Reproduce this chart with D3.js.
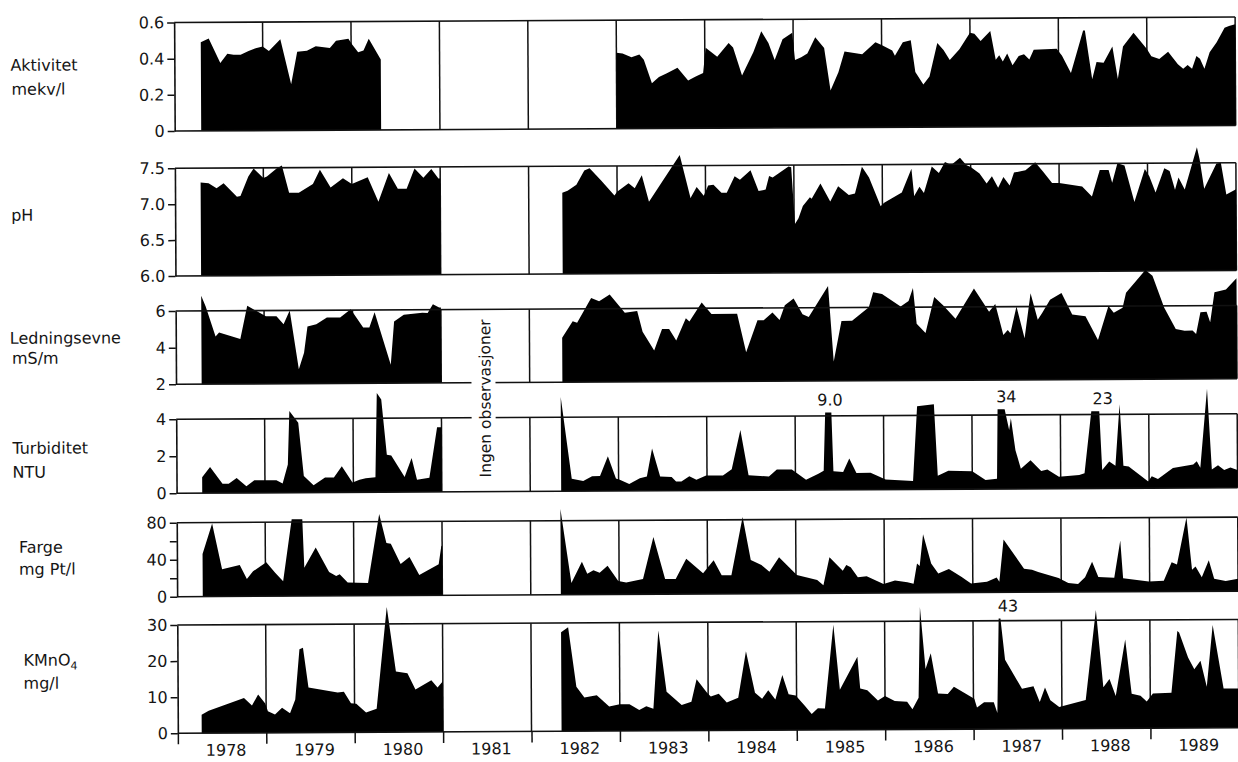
<!DOCTYPE html>
<html><head><meta charset="utf-8">
<script src="https://cdn.jsdelivr.net/npm/d3@7"></script>
<style>
body{margin:0;background:#fff}
svg{display:block}
text{font-family:"DejaVu Sans",sans-serif;fill:#151515}
</style>
</head><body>
<svg id="c" width="1238" height="762"></svg>
<script>
// ---------------- data (decimal year, value); null = gap ----------------
const years = [1978,1979,1980,1981,1982,1983,1984,1985,1986,1987,1988,1989];

const aktivitet = [
[1978.30,0.49],[1978.39,0.51],[1978.52,0.375],[1978.60,0.425],[1978.67,0.42],[1978.75,0.42],[1978.84,0.44],[1978.92,0.455],[1979.00,0.465],[1979.07,0.44],[1979.20,0.505],[1979.32,0.255],[1979.39,0.435],[1979.50,0.44],[1979.60,0.465],[1979.67,0.46],[1979.76,0.455],[1979.83,0.495],[1979.97,0.505],[1980.01,0.475],[1980.08,0.43],[1980.14,0.44],[1980.20,0.505],[1980.335,0.39],
null,
[1983.00,0.42],[1983.07,0.415],[1983.17,0.395],[1983.26,0.41],[1983.31,0.38],[1983.40,0.25],[1983.48,0.285],[1983.57,0.305],[1983.69,0.335],[1983.81,0.265],[1983.89,0.285],[1983.98,0.305],[1984.01,0.445],[1984.14,0.395],[1984.27,0.47],[1984.32,0.445],[1984.42,0.29],[1984.55,0.42],[1984.64,0.535],[1984.72,0.47],[1984.79,0.375],[1984.88,0.49],[1984.99,0.525],[1985.02,0.375],[1985.09,0.39],[1985.16,0.41],[1985.25,0.50],[1985.35,0.44],[1985.42,0.205],[1985.51,0.305],[1985.58,0.42],[1985.78,0.405],[1985.93,0.47],[1986.00,0.455],[1986.12,0.425],[1986.15,0.395],[1986.24,0.47],[1986.33,0.48],[1986.38,0.305],[1986.47,0.235],[1986.54,0.28],[1986.63,0.465],[1986.70,0.425],[1986.77,0.37],[1986.88,0.43],[1987.00,0.52],[1987.05,0.515],[1987.12,0.475],[1987.23,0.53],[1987.29,0.37],[1987.33,0.395],[1987.37,0.36],[1987.42,0.405],[1987.48,0.34],[1987.55,0.39],[1987.61,0.40],[1987.67,0.37],[1987.72,0.425],[1987.98,0.43],[1988.04,0.39],[1988.14,0.295],[1988.28,0.53],[1988.30,0.53],[1988.38,0.26],[1988.43,0.355],[1988.51,0.35],[1988.61,0.44],[1988.67,0.26],[1988.73,0.44],[1988.85,0.515],[1989.00,0.425],[1989.05,0.385],[1989.14,0.37],[1989.24,0.41],[1989.35,0.34],[1989.41,0.315],[1989.46,0.335],[1989.51,0.315],[1989.56,0.385],[1989.60,0.37],[1989.65,0.315],[1989.71,0.405],[1989.79,0.46],[1989.88,0.54],[1989.93,0.55],[1990.00,0.56]
];

const ph = [
[1978.29,7.30],[1978.38,7.29],[1978.47,7.22],[1978.55,7.29],[1978.70,7.10],[1978.74,7.11],[1978.83,7.38],[1978.89,7.49],[1979.00,7.36],[1979.04,7.38],[1979.15,7.49],[1979.21,7.53],[1979.29,7.15],[1979.40,7.15],[1979.56,7.27],[1979.64,7.47],[1979.76,7.22],[1979.90,7.35],[1980.00,7.27],[1980.18,7.36],[1980.30,7.02],[1980.42,7.42],[1980.52,7.20],[1980.62,7.20],[1980.71,7.48],[1980.81,7.35],[1980.90,7.47],[1980.98,7.34],[1981.00,7.34],
null,
[1982.38,7.13],[1982.44,7.16],[1982.54,7.24],[1982.63,7.44],[1982.69,7.47],[1982.82,7.30],[1982.97,7.09],[1983.00,7.14],[1983.13,7.26],[1983.20,7.19],[1983.28,7.37],[1983.36,7.00],[1983.71,7.65],[1983.83,7.05],[1983.90,7.20],[1983.98,7.08],[1984.03,7.22],[1984.09,7.23],[1984.18,7.12],[1984.24,7.12],[1984.33,7.35],[1984.39,7.30],[1984.51,7.43],[1984.60,7.14],[1984.68,7.16],[1984.72,7.35],[1984.76,7.33],[1984.94,7.48],[1984.97,7.47],[1985.01,6.68],[1985.05,6.76],[1985.10,6.93],[1985.18,7.05],[1985.20,7.03],[1985.30,7.24],[1985.41,6.99],[1985.50,7.20],[1985.62,7.08],[1985.69,7.10],[1985.77,7.47],[1985.85,7.32],[1985.98,6.92],[1986.02,6.97],[1986.22,7.11],[1986.33,7.44],[1986.36,7.06],[1986.42,7.19],[1986.47,7.10],[1986.56,7.47],[1986.64,7.38],[1986.71,7.53],[1986.78,7.49],[1986.88,7.59],[1986.95,7.49],[1987.00,7.46],[1987.10,7.37],[1987.18,7.23],[1987.24,7.33],[1987.31,7.17],[1987.37,7.32],[1987.44,7.20],[1987.49,7.38],[1987.62,7.41],[1987.73,7.52],[1987.82,7.39],[1987.92,7.23],[1988.00,7.23],[1988.26,7.18],[1988.37,7.04],[1988.46,7.41],[1988.56,7.41],[1988.60,7.23],[1988.66,7.50],[1988.74,7.47],[1988.85,6.96],[1988.97,7.42],[1989.02,7.32],[1989.09,7.09],[1989.19,7.43],[1989.25,7.39],[1989.31,7.13],[1989.35,7.30],[1989.42,7.13],[1989.56,7.72],[1989.59,7.55],[1989.64,7.14],[1989.78,7.49],[1989.83,7.50],[1989.89,7.06],[1990.00,7.13]
];

const ledningsevne = [
[1978.29,6.82],[1978.34,6.24],[1978.45,4.60],[1978.49,4.82],[1978.73,4.45],[1978.81,6.27],[1978.92,5.96],[1979.02,5.69],[1979.14,5.69],[1979.22,5.24],[1979.29,6.00],[1979.39,2.78],[1979.45,3.69],[1979.49,5.11],[1979.59,5.24],[1979.71,5.60],[1979.86,5.60],[1979.98,6.05],[1980.12,5.05],[1980.19,5.05],[1980.25,5.87],[1980.43,3.00],[1980.47,5.36],[1980.58,5.73],[1980.79,5.84],[1980.85,5.82],[1980.91,6.29],[1980.98,6.11],[1981.00,6.11],
null,
[1982.37,4.43],[1982.49,5.33],[1982.54,5.24],[1982.70,6.59],[1982.79,6.41],[1982.91,6.77],[1983.05,5.96],[1983.08,5.78],[1983.22,5.87],[1983.28,4.73],[1983.41,3.71],[1983.50,4.88],[1983.58,4.88],[1983.66,4.25],[1983.77,5.46],[1983.81,5.28],[1983.95,6.32],[1984.06,5.69],[1984.35,5.69],[1984.45,3.59],[1984.58,5.33],[1984.65,5.33],[1984.75,5.75],[1984.83,5.33],[1984.89,6.14],[1984.99,6.50],[1985.09,5.64],[1985.16,5.49],[1985.38,7.18],[1985.44,3.05],[1985.53,5.27],[1985.65,5.27],[1985.84,6.00],[1985.89,6.82],[1985.99,6.73],[1986.20,6.04],[1986.29,6.33],[1986.34,7.05],[1986.38,5.09],[1986.48,4.58],[1986.58,6.55],[1986.68,6.09],[1986.82,5.36],[1987.03,7.00],[1987.20,5.73],[1987.27,6.15],[1987.36,4.45],[1987.41,4.73],[1987.44,4.55],[1987.51,6.00],[1987.60,4.27],[1987.67,6.73],[1987.75,5.27],[1987.80,5.64],[1987.89,6.36],[1988.02,6.73],[1988.14,5.55],[1988.29,5.45],[1988.43,4.15],[1988.55,6.00],[1988.61,5.64],[1988.71,5.91],[1988.75,6.73],[1988.97,7.96],[1989.05,7.64],[1989.18,5.91],[1989.31,4.73],[1989.41,4.64],[1989.50,4.64],[1989.54,4.45],[1989.59,5.64],[1989.66,5.67],[1989.70,5.09],[1989.75,6.73],[1989.88,6.87],[1990.00,7.49]
];

const turbiditet = [
[1978.29,0.86],[1978.38,1.41],[1978.52,0.50],[1978.59,0.50],[1978.68,0.81],[1978.79,0.36],[1978.88,0.68],[1979.13,0.68],[1979.20,0.50],[1979.26,1.53],[1979.28,4.41],[1979.38,3.78],[1979.44,0.90],[1979.55,0.40],[1979.68,0.81],[1979.78,0.81],[1979.87,1.41],[1979.99,0.54],[1980.07,0.68],[1980.14,0.76],[1980.25,0.81],[1980.27,5.37],[1980.32,5.01],[1980.38,2.02],[1980.43,1.98],[1980.58,0.81],[1980.66,1.84],[1980.72,0.66],[1980.86,0.77],[1980.95,3.50],[1981.00,3.50],
null,
[1982.35,5.10],[1982.47,0.68],[1982.60,0.55],[1982.70,0.81],[1982.79,0.81],[1982.88,1.88],[1982.97,0.68],[1983.02,0.59],[1983.12,0.37],[1983.24,0.68],[1983.32,0.77],[1983.38,2.29],[1983.47,0.77],[1983.60,0.74],[1983.65,0.50],[1983.71,0.50],[1983.80,0.77],[1983.88,0.59],[1983.99,0.81],[1984.18,0.81],[1984.28,1.14],[1984.38,3.26],[1984.47,0.81],[1984.70,0.74],[1984.79,1.11],[1984.96,1.11],[1985.12,0.55],[1985.26,0.87],[1985.32,1.04],[1985.34,4.18],[1985.41,4.18],[1985.43,1.00],[1985.54,0.96],[1985.61,1.69],[1985.69,0.91],[1985.85,0.91],[1986.02,0.55],[1986.33,0.45],[1986.38,4.49],[1986.57,4.60],[1986.61,0.73],[1986.73,1.00],[1987.00,0.96],[1987.15,0.49],[1987.28,0.55],[1987.29,4.31],[1987.37,4.31],[1987.42,3.18],[1987.44,3.82],[1987.49,2.09],[1987.55,1.09],[1987.66,1.55],[1987.78,0.96],[1987.85,1.04],[1987.98,0.64],[1988.21,0.73],[1988.27,0.82],[1988.35,4.18],[1988.44,4.18],[1988.47,1.00],[1988.55,1.45],[1988.62,1.22],[1988.67,4.55],[1988.71,1.22],[1988.77,1.18],[1988.99,0.36],[1989.03,0.64],[1989.10,0.49],[1989.27,1.09],[1989.50,1.27],[1989.54,1.45],[1989.58,1.09],[1989.66,5.36],[1989.71,1.00],[1989.78,1.22],[1989.85,0.96],[1989.92,1.09],[1990.00,0.96]
];

const farge = [
[1978.29,46],[1978.40,79],[1978.51,29.5],[1978.71,34],[1978.79,18.7],[1978.86,27],[1979.01,36.8],[1979.11,25.2],[1979.20,16.2],[1979.30,83],[1979.42,83],[1979.44,30.6],[1979.57,52.3],[1979.72,25.9],[1979.80,21.6],[1979.84,23.4],[1979.93,14.4],[1980.16,13.7],[1980.29,88.3],[1980.37,56.9],[1980.42,55.9],[1980.53,34],[1980.63,41.5],[1980.74,22],[1980.96,33.5],[1980.99,52.7],[1981.00,53.8],
null,
[1982.34,92.7],[1982.46,12.7],[1982.58,35.6],[1982.64,22.5],[1982.71,26.2],[1982.78,23.6],[1982.87,30.9],[1982.99,14.5],[1983.08,12.7],[1983.27,16.4],[1983.39,61.8],[1983.52,16.4],[1983.64,16.4],[1983.76,38.2],[1983.95,22.5],[1984.07,36.4],[1984.16,20.0],[1984.27,20.0],[1984.40,82.9],[1984.49,36.4],[1984.61,30.9],[1984.70,23.6],[1984.81,39.3],[1985.01,20],[1985.24,14.5],[1985.31,8.7],[1985.38,38.9],[1985.53,24.4],[1985.57,30.5],[1985.62,28.0],[1985.70,17.1],[1985.80,18.2],[1985.99,9.8],[1986.12,13.5],[1986.26,11.6],[1986.33,9.8],[1986.37,31.6],[1986.40,29.1],[1986.44,63.3],[1986.53,31.6],[1986.61,20.7],[1986.73,25.5],[1986.87,17.1],[1986.98,9.8],[1987.16,11.6],[1987.27,16.0],[1987.30,11.6],[1987.35,57.1],[1987.58,25.5],[1987.67,24.4],[1987.74,21.8],[1987.97,15.3],[1988.08,9.8],[1988.19,8.7],[1988.27,16.0],[1988.35,32.7],[1988.42,16.0],[1988.60,15.3],[1988.67,55.3],[1988.70,14.5],[1988.99,10.9],[1989.16,11.6],[1989.25,31.6],[1989.31,29.1],[1989.42,80.0],[1989.48,23.3],[1989.52,26.9],[1989.59,15.3],[1989.67,33.5],[1989.73,13.5],[1989.86,10.9],[1990.00,13.5]
];

const kmno4 = [
[1978.27,5.1],[1978.35,6.2],[1978.75,9.7],[1978.84,7.6],[1978.91,10.6],[1978.99,8.1],[1979.02,6.0],[1979.10,5.1],[1979.18,6.9],[1979.27,5.4],[1979.33,9.2],[1979.38,23.1],[1979.42,23.5],[1979.48,12.5],[1979.81,11.1],[1979.88,11.3],[1979.96,8.1],[1980.02,7.9],[1980.13,5.5],[1980.25,6.5],[1980.37,34.7],[1980.47,16.8],[1980.60,16.3],[1980.69,11.8],[1980.87,14.3],[1980.94,12.3],[1981.00,14.0],
null,
[1982.34,27.4],[1982.42,28.8],[1982.51,12.3],[1982.60,9.3],[1982.74,9.9],[1982.88,6.8],[1983.00,7.4],[1983.11,7.4],[1983.22,5.8],[1983.30,6.8],[1983.38,6.1],[1983.44,27.8],[1983.53,10.8],[1983.70,7.1],[1983.81,8.0],[1983.87,14.2],[1983.99,10.4],[1984.03,9.4],[1984.12,10.2],[1984.21,7.7],[1984.34,9.0],[1984.43,21.9],[1984.53,10.4],[1984.61,8.7],[1984.68,11.1],[1984.76,8.5],[1984.84,15.3],[1984.91,9.9],[1984.99,9.6],[1985.09,6.8],[1985.17,4.4],[1985.24,6.0],[1985.32,5.9],[1985.42,29.1],[1985.49,11.1],[1985.69,20.2],[1985.72,11.4],[1985.80,10.9],[1985.92,8.1],[1986.00,9.3],[1986.11,7.9],[1986.25,7.7],[1986.31,5.6],[1986.38,8.8],[1986.40,33.9],[1986.46,16.7],[1986.52,21.1],[1986.60,9.9],[1986.71,9.8],[1986.78,11.8],[1987.01,8.4],[1987.04,6.0],[1987.12,7.4],[1987.23,7.4],[1987.27,4.4],[1987.29,30.6],[1987.31,30.6],[1987.36,19.2],[1987.55,11.1],[1987.68,11.8],[1987.75,7.4],[1987.81,11.4],[1987.87,7.9],[1987.97,6.0],[1988.27,7.9],[1988.39,32.8],[1988.47,11.4],[1988.54,13.7],[1988.61,9.0],[1988.72,24.6],[1988.79,9.6],[1988.89,9.0],[1988.96,7.4],[1989.03,9.6],[1989.24,9.8],[1989.31,26.9],[1989.33,26.5],[1989.43,19.5],[1989.50,16.3],[1989.57,18.6],[1989.64,11.4],[1989.71,28.5],[1989.83,10.9],[1990.00,10.9]
];

// tick values per panel
const aktTicks = [0,0.2,0.4,0.6];
const phTicks = [6.0,6.5,7.0,7.5];
const ledTicks = [2,4,6];
const turbTicks = [0,2,4];
const fargeTicks = [0,20,40,60,80];
const fargeLabelled = [0,40,80];
const kmnTicks = [0,10,20,30];

// off-scale annotations
const turbNotes = [{t:1985.395,v:4.18,text:"9.0"},{t:1987.39,v:4.31,text:"34"},{t:1988.48,v:4.18,text:"23"}];
const kmnNotes = [{t:1987.395,v:30.6,text:"43"}];
const noDataText = "Ingen observasjoner";

// ---------------- layout ----------------
const panels = [
  {data:aktivitet, domain:[0,0.6], range:[131,22.5], ticks:aktTicks, fmt:d=>d===0?"0":d3.format(".1f")(d),
   labels:[{t:"Aktivitet",x:12,y:70},{t:"mekv/l",x:13,y:94}]},
  {data:ph, domain:[6.0,7.5], range:[276,168.3], ticks:phTicks, fmt:d3.format(".1f"),
   labels:[{t:"pH",x:12,y:220}]},
  {data:ledningsevne, domain:[2,6], range:[384.3,311], ticks:ledTicks, fmt:d3.format("d"),
   labels:[{t:"Ledningsevne",x:10,y:343},{t:"mS/m",x:12,y:363}]},
  {data:turbiditet, domain:[0,4], range:[493.3,419.3], ticks:turbTicks, fmt:d3.format("d"), notes:turbNotes,
   labels:[{t:"Turbiditet",x:12,y:453},{t:"NTU",x:12,y:477}]},
  {data:farge, domain:[0,80], range:[596.7,522.7], ticks:fargeTicks, fmt:d=>fargeLabelled.includes(d)?String(d):"",
   labels:[{t:"Farge",x:18,y:552},{t:"mg Pt/l",x:18,y:574}]},
  {data:kmno4, domain:[0,30], range:[733.3,625], ticks:kmnTicks, fmt:d3.format("d"), notes:kmnNotes,
   labels:[{t:"KMnO",sub:"4",x:22,y:665},{t:"mg/l",x:22,y:688}]}
];

const INK = "#111";
const svg = d3.select("#c");
const root = svg.append("g").attr("transform","rotate(-0.3,176,380)");
const x = d3.scaleLinear().domain([1978,1990]).range([176,1237]);
const yearBounds = d3.range(1979,1991);

panels.forEach(p => {
  const y = d3.scaleLinear().domain(p.domain).range(p.range);
  const g = root.append("g");
  const yb = y(p.domain[0]), yt = y(p.domain[1]);

  // year separator lines
  g.selectAll("line.yr").data(yearBounds).join("line")
    .attr("x1",d=>x(d)).attr("x2",d=>x(d)).attr("y1",yt).attr("y2",yb)
    .attr("stroke",INK).attr("stroke-width",1.5);

  // filled series
  const area = d3.area().defined(d=>d!==null)
    .x(d=>x(d[0])).y0(yb).y1(d=>y(d[1])).curve(d3.curveLinear);
  g.append("path").datum(p.data).attr("d",area).attr("fill","#000");

  // top / bottom frame lines
  [yt,yb].forEach(yy => g.append("line").attr("x1",x(1978)).attr("x2",x(1990))
    .attr("y1",yy).attr("y2",yy).attr("stroke",INK).attr("stroke-width",1.6));

  // left axis
  const ax = g.append("g").attr("transform",`translate(${x(1978)},0)`)
    .call(d3.axisLeft(y).tickValues(p.ticks).tickFormat(p.fmt).tickSize(7).tickSizeOuter(0).tickPadding(3));
  ax.select(".domain").attr("stroke",INK).attr("stroke-width",1.6);
  ax.selectAll(".tick line").attr("stroke",INK).attr("stroke-width",1.5);
  ax.selectAll(".tick text").attr("font-family",'"DejaVu Sans",sans-serif').attr("font-size",16).attr("fill","#151515");

  // annotations for off-scale values
  (p.notes||[]).forEach(n => g.append("text").attr("x",x(n.t)).attr("y",y(n.v)-7)
    .attr("text-anchor","middle").attr("font-size",16).text(n.text));

  // panel labels
  p.labels.forEach(l => {
    const t = g.append("text").attr("x",l.x).attr("y",l.y).attr("font-size",16).text(l.t);
    if (l.sub) t.append("tspan").attr("font-size",11).attr("dy",4).text(l.sub);
  });

  p.y = y;
});

// bottom time axis
const bottomY = panels[5].y(0);
const bx = root.append("g").attr("transform",`translate(0,${bottomY})`)
  .call(d3.axisBottom(x).tickValues(years).tickSize(11).tickFormat(""));
bx.select(".domain").remove();
bx.selectAll(".tick line").attr("stroke",INK).attr("stroke-width",1.5);
root.selectAll("text.year").data(years).join("text").attr("class","year")
  .attr("x",d=>x(d+0.5)+4).attr("y",756).attr("text-anchor","middle").attr("font-size",16).text(d=>d);

// "no observations" note in 1981
const nx = x(1981.5);
root.append("rect").attr("x",nx-14).attr("y",320).attr("width",24).attr("height",160).attr("fill","#fff");
root.append("text").attr("transform",`translate(${nx+5},400) rotate(-90)`)
  .attr("text-anchor","middle").attr("font-size",15.5).text(noDataText);
</script>
</body></html>
